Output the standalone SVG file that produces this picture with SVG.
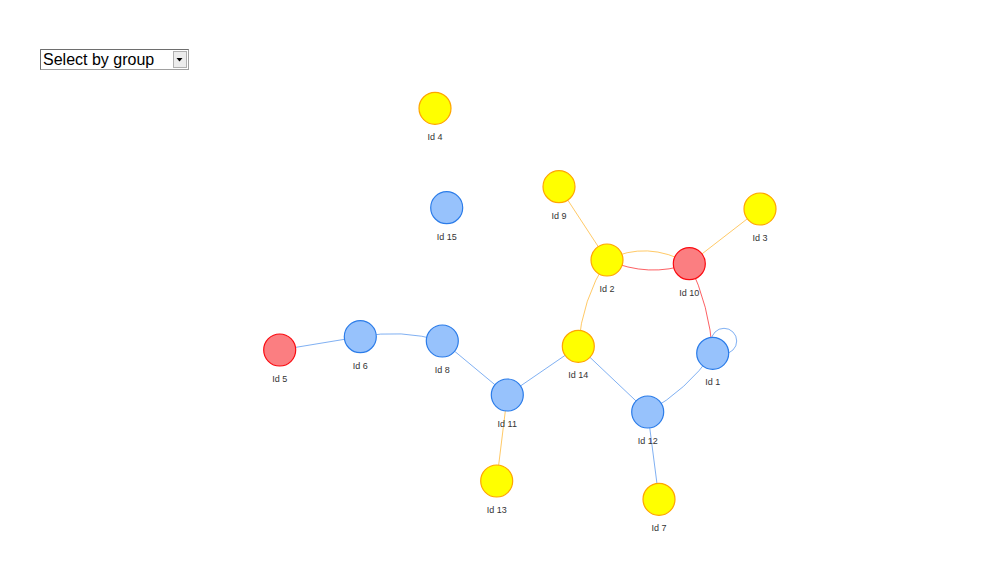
<svg xmlns="http://www.w3.org/2000/svg" width="1000" height="588" viewBox="0 0 1000 588">
<style>
.n circle{stroke-width:1.2}
.blue circle{fill:#97C2FC;stroke:#2B7CE9}
.yellow circle{fill:#FFFF00;stroke:#FFA500}
.red circle{fill:#FB7E81;stroke:#FA0A10}
.n text{font-family:"Liberation Sans",Arial,sans-serif;font-size:9px;fill:#343434;text-anchor:middle}
#edges path,#edges line,#edges circle{fill:none;stroke-width:1}
.eo{stroke:#FFA500;stroke-opacity:0.6}
.eb{stroke:#2B7CE9;stroke-opacity:0.6}
.er{stroke:#FA0A10;stroke-opacity:0.65}
</style>
<rect width="1000" height="588" fill="#ffffff"/>
<g id="select">
<rect x="40.5" y="49.5" width="148" height="20" fill="#ffffff" stroke="#a0a0a0"/>
<path d="M40.5 69.5 V49.5 H188.5" fill="none" stroke="#6e6e6e"/>
<rect x="173.5" y="51.5" width="13" height="16" fill="#ececec" stroke="#b0b0b0"/>
<path d="M176.5 58 h6 l-3 3.5 z" fill="#000"/>
<text x="43" y="64.5" font-family="Liberation Sans,Arial,sans-serif" font-size="16" fill="#000">Select by group</text>
</g>
<g id="edges">
<line class="eo" x1="559" y1="186.7" x2="607" y2="260"/>
<line class="eo" x1="760" y1="209" x2="689.3" y2="263.7"/>
<path class="eo" d="M607 260 Q647 240 689.3 263.7"/>
<path class="er" d="M607 260 Q649 278 689.3 263.7"/>
<path class="eo" d="M607 260 Q582 299.5 578.3 346.3"/>
<path class="er" d="M689.3 263.7 Q709.5 306.3 712.7 353.3"/>
<circle class="eb" cx="724" cy="341" r="12.7"/>
<line class="eb" x1="578.3" y1="346.3" x2="647.7" y2="412"/>
<path class="eb" d="M647.7 412 Q687 390 712.7 353.3"/>
<line class="eb" x1="647.7" y1="412" x2="659" y2="499.3"/>
<line class="eb" x1="578.3" y1="346.3" x2="507.3" y2="395"/>
<line class="eb" x1="507.3" y1="395" x2="442.3" y2="341"/>
<line class="eo" x1="507.3" y1="395" x2="496.7" y2="481"/>
<path class="eb" d="M442.3 341 Q401 329 360.3 336.7"/>
<line class="eb" x1="360.3" y1="336.7" x2="279.7" y2="350"/>
</g>
<g id="node1" class="n blue"><circle cx="712.7" cy="353.3" r="16"/><text x="712.7" y="385.3">Id 1</text></g>
<g id="node2" class="n yellow"><circle cx="607" cy="260" r="16"/><text x="607" y="292">Id 2</text></g>
<g id="node3" class="n yellow"><circle cx="760" cy="209" r="16"/><text x="760" y="241">Id 3</text></g>
<g id="node4" class="n yellow"><circle cx="435" cy="108.3" r="16"/><text x="435" y="140.3">Id 4</text></g>
<g id="node5" class="n red"><circle cx="279.7" cy="350" r="16"/><text x="279.7" y="382">Id 5</text></g>
<g id="node6" class="n blue"><circle cx="360.3" cy="336.7" r="16"/><text x="360.3" y="368.7">Id 6</text></g>
<g id="node7" class="n yellow"><circle cx="659" cy="499.3" r="16"/><text x="659" y="531.3">Id 7</text></g>
<g id="node8" class="n blue"><circle cx="442.3" cy="341" r="16"/><text x="442.3" y="373">Id 8</text></g>
<g id="node9" class="n yellow"><circle cx="559" cy="186.7" r="16"/><text x="559" y="218.7">Id 9</text></g>
<g id="node10" class="n red"><circle cx="689.3" cy="263.7" r="16"/><text x="689.3" y="295.7">Id 10</text></g>
<g id="node11" class="n blue"><circle cx="507.3" cy="395" r="16"/><text x="507.3" y="427">Id 11</text></g>
<g id="node12" class="n blue"><circle cx="647.7" cy="412" r="16"/><text x="647.7" y="444">Id 12</text></g>
<g id="node13" class="n yellow"><circle cx="496.7" cy="481" r="16"/><text x="496.7" y="513">Id 13</text></g>
<g id="node14" class="n yellow"><circle cx="578.3" cy="346.3" r="16"/><text x="578.3" y="378.3">Id 14</text></g>
<g id="node15" class="n blue"><circle cx="446.7" cy="207.7" r="16"/><text x="446.7" y="239.7">Id 15</text></g>
</svg>
